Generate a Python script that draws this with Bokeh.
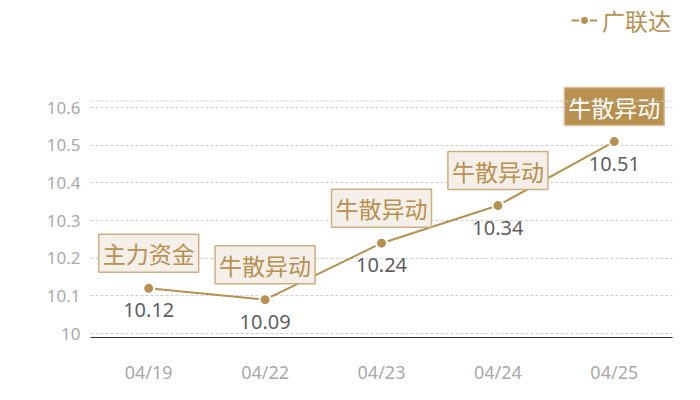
from bokeh.plotting import figure
from bokeh.models import (ColumnDataSource, FactorRange, Range1d, FixedTicker,
                          CustomJSTickFormatter, Span, Legend, LegendItem)
from bokeh.core.properties import value
from bokeh.embed import file_html
from bokeh.resources import INLINE

# ---- data ----
dates = ["04/19", "04/22", "04/23", "04/24", "04/25"]
prices = [10.12, 10.09, 10.24, 10.34, 10.51]
tags = ["主力资金", "牛散异动", "牛散异动", "牛散异动", "牛散异动"]
series_name = "广联达"
y_ticks = [10, 10.1, 10.2, 10.3, 10.4, 10.5, 10.6]

GOLD = "#B8904F"
BOX_FILL = "#F4EFE8"
BOX_LINE = "#CDAE80"
GRID = "#CFCFCF"
TICK = "#A9A9A9"
VAL = "#5E5E5E"
CJK = "Noto Sans CJK SC"

src = ColumnDataSource(dict(x=dates, y=prices,
                            lab=["%.2f" % v for v in prices]))
reg = ColumnDataSource(dict(x=dates[:-1], y=prices[:-1], t=tags[:-1]))
hi = ColumnDataSource(dict(x=dates[-1:], y=prices[-1:], t=tags[-1:]))

p = figure(width=684, height=386, output_backend="svg", toolbar_location=None,
           x_range=FactorRange(*dates, range_padding=0),
           y_range=Range1d(9.9894, 10.8849),
           min_border_left=90, min_border_right=12,
           min_border_top=0, min_border_bottom=40)
p.outline_line_color = None
p.background_fill_color = "white"
p.border_fill_color = "white"

# grid
p.xgrid.grid_line_color = None
p.ygrid.grid_line_color = GRID
p.ygrid.grid_line_dash = "3 2"
p.ygrid.grid_line_width = 1
p.add_layout(Span(location=10.6175, dimension="width",
                  line_color=GRID, line_dash="3 2", line_width=1))

# axes
p.yaxis.ticker = FixedTicker(ticks=y_ticks)
p.yaxis.formatter = CustomJSTickFormatter(code="return String(Math.round(tick*10)/10)")
p.yaxis.axis_line_color = None
p.yaxis.major_tick_line_color = None
p.yaxis.minor_tick_line_color = None
p.yaxis.major_label_standoff = 4
p.yaxis.major_label_text_color = TICK
p.yaxis.major_label_text_font = "Noto Sans"
p.yaxis.major_label_text_font_size = "17px"

p.xaxis.axis_line_color = "#333333"
p.xaxis.axis_line_width = 1
p.xaxis.major_tick_line_color = None
p.xaxis.minor_tick_line_color = None
p.xaxis.major_label_standoff = 16
p.xaxis.major_label_text_color = TICK
p.xaxis.major_label_text_font = "Noto Sans"
p.xaxis.major_label_text_font_size = "18px"

# series
ln = p.line("x", "y", source=src, line_color=GOLD, line_width=2)
pts = p.scatter("x", "y", source=src, size=11, fill_color=GOLD,
                line_color="white", line_width=2)

# value labels
p.text("x", "y", text="lab", source=src, y_offset=22,
       text_align="center", text_baseline="middle",
       text_color=VAL, text_font=value("Noto Sans"), text_font_size="20px")

# tag boxes
p.text("x", "y", text="t", source=reg, y_offset=-35,
       text_align="center", text_baseline="middle",
       text_color=GOLD, text_font=value(CJK), text_font_size="23px",
       background_fill_color=BOX_FILL, border_line_color=BOX_LINE,
       border_line_width=1.5, padding=[4, 2])
p.text("x", "y", text="t", source=hi, y_offset=-35,
       text_align="center", text_baseline="middle",
       text_color="white", text_font=value(CJK), text_font_size="23px",
       background_fill_color=GOLD, border_line_color="#D9C29C",
       border_line_width=1.5, padding=[4, 2])

# legend
legend = Legend(items=[LegendItem(label=series_name, renderers=[ln, pts])],
                location=(481, 300), orientation="horizontal",
                background_fill_alpha=0, border_line_color=None,
                padding=0, margin=0, spacing=0,
                glyph_width=26, glyph_height=22, label_standoff=5,
                label_text_color=GOLD, label_text_font=CJK,
                label_text_font_size="23px")
p.add_layout(legend, "center")

open("out.html", "w").write(file_html(p, INLINE))
